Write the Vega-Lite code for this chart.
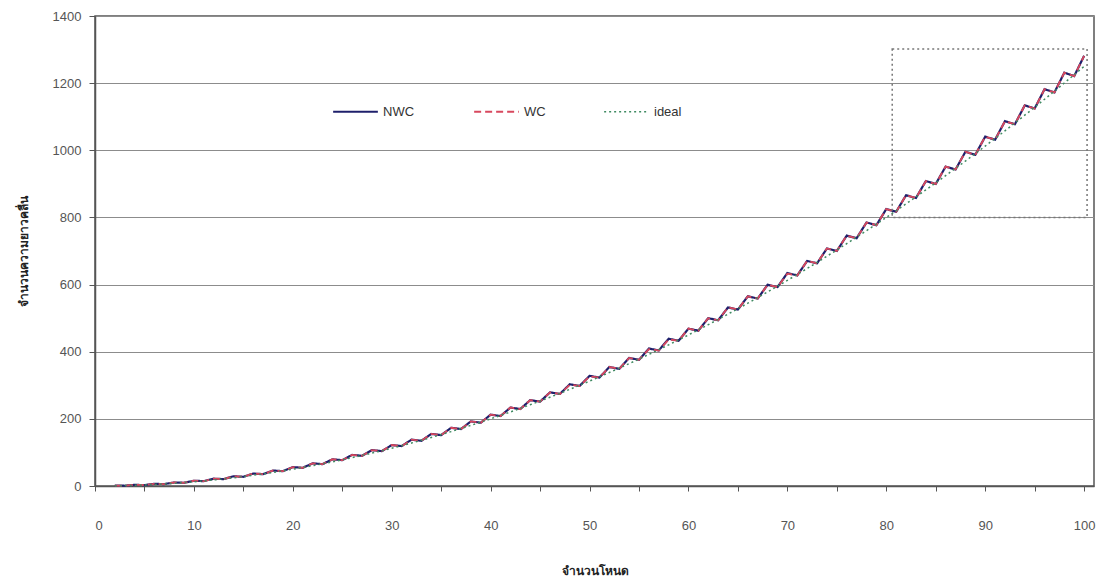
{
  "$schema": "https://vega.github.io/schema/vega-lite/v6.json",
  "width": 999,
  "height": 470,
  "autosize": "none",
  "padding": {"left": 95, "top": 16, "right": 15, "bottom": 99},
  "background": "white",
  "config": {
    "view": {"stroke": "#555555", "strokeWidth": 1.5},
    "font": "Liberation Sans"
  },
  "datasets": {
    "curves": [
      {"n":2,"NWC":1.1,"WC":1.1,"ideal":0.5},
      {"n":3,"NWC":0.8,"WC":0.8,"ideal":1.125},
      {"n":4,"NWC":3.3,"WC":3.3,"ideal":2},
      {"n":5,"NWC":2.8,"WC":2.8,"ideal":3.125},
      {"n":6,"NWC":6.4,"WC":6.4,"ideal":4.5},
      {"n":7,"NWC":5.7,"WC":5.7,"ideal":6.125},
      {"n":8,"NWC":10.5,"WC":10.5,"ideal":8},
      {"n":9,"NWC":9.6,"WC":9.6,"ideal":10.125},
      {"n":10,"NWC":15.6,"WC":15.6,"ideal":12.5},
      {"n":11,"NWC":14.5,"WC":14.5,"ideal":15.125},
      {"n":12,"NWC":21.8,"WC":21.8,"ideal":18},
      {"n":13,"NWC":20.5,"WC":20.5,"ideal":21.125},
      {"n":14,"NWC":28.9,"WC":28.9,"ideal":24.5},
      {"n":15,"NWC":27.4,"WC":27.4,"ideal":28.125},
      {"n":16,"NWC":37,"WC":37,"ideal":32},
      {"n":17,"NWC":35.3,"WC":35.3,"ideal":36.125},
      {"n":18,"NWC":46.1,"WC":46.1,"ideal":40.5},
      {"n":19,"NWC":44.2,"WC":44.2,"ideal":45.125},
      {"n":20,"NWC":56.3,"WC":56.3,"ideal":50},
      {"n":21,"NWC":54.2,"WC":54.2,"ideal":55.125},
      {"n":22,"NWC":67.4,"WC":67.4,"ideal":60.5},
      {"n":23,"NWC":65.1,"WC":65.1,"ideal":66.125},
      {"n":24,"NWC":79.5,"WC":79.5,"ideal":72},
      {"n":25,"NWC":77,"WC":77,"ideal":78.125},
      {"n":26,"NWC":92.6,"WC":92.6,"ideal":84.5},
      {"n":27,"NWC":89.9,"WC":89.9,"ideal":91.125},
      {"n":28,"NWC":106.8,"WC":106.8,"ideal":98},
      {"n":29,"NWC":103.9,"WC":103.9,"ideal":105.125},
      {"n":30,"NWC":121.9,"WC":121.9,"ideal":112.5},
      {"n":31,"NWC":118.8,"WC":118.8,"ideal":120.125},
      {"n":32,"NWC":138,"WC":138,"ideal":128},
      {"n":33,"NWC":134.7,"WC":134.7,"ideal":136.125},
      {"n":34,"NWC":155.1,"WC":155.1,"ideal":144.5},
      {"n":35,"NWC":151.6,"WC":151.6,"ideal":153.125},
      {"n":36,"NWC":173.3,"WC":173.3,"ideal":162},
      {"n":37,"NWC":169.6,"WC":169.6,"ideal":171.125},
      {"n":38,"NWC":192.4,"WC":192.4,"ideal":180.5},
      {"n":39,"NWC":188.5,"WC":188.5,"ideal":190.125},
      {"n":40,"NWC":212.5,"WC":212.5,"ideal":200},
      {"n":41,"NWC":208.4,"WC":208.4,"ideal":210.125},
      {"n":42,"NWC":233.6,"WC":233.6,"ideal":220.5},
      {"n":43,"NWC":229.3,"WC":229.3,"ideal":231.125},
      {"n":44,"NWC":255.8,"WC":255.8,"ideal":242},
      {"n":45,"NWC":251.3,"WC":251.3,"ideal":253.125},
      {"n":46,"NWC":278.9,"WC":278.9,"ideal":264.5},
      {"n":47,"NWC":274.2,"WC":274.2,"ideal":276.125},
      {"n":48,"NWC":303,"WC":301.5,"ideal":288},
      {"n":49,"NWC":298.1,"WC":298.1,"ideal":300.125},
      {"n":50,"NWC":328.1,"WC":326.5,"ideal":312.5},
      {"n":51,"NWC":323,"WC":323,"ideal":325.125},
      {"n":52,"NWC":354.3,"WC":354.3,"ideal":338},
      {"n":53,"NWC":349,"WC":349,"ideal":351.125},
      {"n":54,"NWC":381.4,"WC":381.4,"ideal":364.5},
      {"n":55,"NWC":375.9,"WC":375.9,"ideal":378.125},
      {"n":56,"NWC":409.5,"WC":407.5,"ideal":392},
      {"n":57,"NWC":403.8,"WC":403.8,"ideal":406.125},
      {"n":58,"NWC":438.6,"WC":436.6,"ideal":420.5},
      {"n":59,"NWC":432.7,"WC":432.7,"ideal":435.125},
      {"n":60,"NWC":468.8,"WC":468.8,"ideal":450},
      {"n":61,"NWC":462.7,"WC":462.7,"ideal":465.125},
      {"n":62,"NWC":499.9,"WC":499.9,"ideal":480.5},
      {"n":63,"NWC":493.6,"WC":493.6,"ideal":496.125},
      {"n":64,"NWC":532,"WC":532,"ideal":512},
      {"n":65,"NWC":525.5,"WC":525.5,"ideal":528.125},
      {"n":66,"NWC":565.1,"WC":565.1,"ideal":544.5},
      {"n":67,"NWC":558.4,"WC":558.4,"ideal":561.125},
      {"n":68,"NWC":599.3,"WC":599.3,"ideal":578},
      {"n":69,"NWC":592.4,"WC":592.4,"ideal":595.125},
      {"n":70,"NWC":634.4,"WC":632.4,"ideal":612.5},
      {"n":71,"NWC":627.3,"WC":627.3,"ideal":630.125},
      {"n":72,"NWC":670.5,"WC":670.5,"ideal":648},
      {"n":73,"NWC":663.2,"WC":663.2,"ideal":666.125},
      {"n":74,"NWC":707.6,"WC":707.6,"ideal":684.5},
      {"n":75,"NWC":700.1,"WC":700.1,"ideal":703.125},
      {"n":76,"NWC":745.8,"WC":745.8,"ideal":722},
      {"n":77,"NWC":738.1,"WC":738.1,"ideal":741.125},
      {"n":78,"NWC":784.9,"WC":784.9,"ideal":760.5},
      {"n":79,"NWC":777,"WC":777,"ideal":780.125},
      {"n":80,"NWC":825,"WC":825,"ideal":800},
      {"n":81,"NWC":816.9,"WC":816.9,"ideal":820.125},
      {"n":82,"NWC":866.1,"WC":866.1,"ideal":840.5},
      {"n":83,"NWC":857.8,"WC":857.8,"ideal":861.125},
      {"n":84,"NWC":908.3,"WC":908.3,"ideal":882},
      {"n":85,"NWC":899.8,"WC":899.8,"ideal":903.125},
      {"n":86,"NWC":951.4,"WC":951.4,"ideal":924.5},
      {"n":87,"NWC":942.7,"WC":942.7,"ideal":946.125},
      {"n":88,"NWC":995.5,"WC":995.5,"ideal":968},
      {"n":89,"NWC":986.6,"WC":986.6,"ideal":990.125},
      {"n":90,"NWC":1040.6,"WC":1040.6,"ideal":1012.5},
      {"n":91,"NWC":1031.5,"WC":1031.5,"ideal":1035.125},
      {"n":92,"NWC":1086.8,"WC":1086.8,"ideal":1058},
      {"n":93,"NWC":1077.5,"WC":1077.5,"ideal":1081.125},
      {"n":94,"NWC":1133.9,"WC":1133.9,"ideal":1104.5},
      {"n":95,"NWC":1124.4,"WC":1124.4,"ideal":1128.125},
      {"n":96,"NWC":1182,"WC":1182,"ideal":1152},
      {"n":97,"NWC":1172.3,"WC":1172.3,"ideal":1176.125},
      {"n":98,"NWC":1231.1,"WC":1231.1,"ideal":1200.5},
      {"n":99,"NWC":1221.2,"WC":1221.2,"ideal":1225.125},
      {"n":100,"NWC":1281.3,"WC":1281.3,"ideal":1250}
    ],
    "box": [{"x0": 80.6, "x1": 100.3, "y0": 800, "y1": 1302}]
  },
  "layer": [
    {
      "data": {"name": "curves"},
      "transform": [{"fold": ["NWC", "WC", "ideal"], "as": ["series", "value"]}],
      "mark": {"type": "line", "interpolate": "linear"},
      "encoding": {
        "x": {
          "field": "n", "type": "quantitative",
          "scale": {"domain": [0, 101], "nice": false, "zero": false},
          "axis": {
            "title": "จำนวนโหนด",
            "values": [0,5,10,15,20,25,30,35,40,45,50,55,60,65,70,75,80,85,90,95,100],
            "labelExpr": "datum.value % 10 === 0 ? datum.label : ''",
            "grid": false,
            "domainColor": "#555555", "domainWidth": 1.5,
            "tickColor": "#555555", "tickSize": 5, "tickWidth": 1,
            "labelColor": "#555555", "labelFontSize": 13, "labelPadding": 28, "labelDx": 4,
            "labelFont": "Liberation Sans",
            "titleFont": "Noto Sans", "titleFontSize": 12, "titleFontWeight": "bold", "titleColor": "#222222",
            "titlePadding": 33
          }
        },
        "y": {
          "field": "value", "type": "quantitative",
          "scale": {"domain": [0, 1400], "nice": false},
          "axis": {
            "title": "จำนวนความยาวคลื่น",
            "values": [0,200,400,600,800,1000,1200,1400],
            "format": "d",
            "grid": true, "gridColor": "#8c8c8c", "gridWidth": 1,
            "domainColor": "#555555", "domainWidth": 1.5,
            "tickColor": "#555555", "tickSize": 6,
            "labelColor": "#555555", "labelFontSize": 13, "labelPadding": 8,
            "labelFont": "Liberation Sans",
            "titleFont": "Noto Sans", "titleFontSize": 12, "titleFontWeight": "bold", "titleColor": "#222222",
            "titlePadding": 22
          }
        },
        "color": {
          "field": "series", "type": "nominal",
          "scale": {"domain": ["NWC", "WC", "ideal"], "range": ["#1e1f6b", "#d8485e", "#3f8a62"]},
          "legend": {
            "title": null, "orient": "none", "direction": "horizontal",
            "legendX": 237, "legendY": 72,
            "symbolType": "stroke", "symbolSize": 2000, "symbolStrokeWidth": 2,
            "labelFontSize": 13, "labelColor": "#333333", "labelOffset": 4,
            "columnPadding": 55
          }
        },
        "strokeDash": {
          "field": "series", "type": "nominal",
          "scale": {"domain": ["NWC", "WC", "ideal"], "range": [[1, 0], [7, 4], [2, 3]]},
          "legend": {
            "title": null, "orient": "none", "direction": "horizontal",
            "legendX": 237, "legendY": 72,
            "symbolType": "stroke", "symbolSize": 2000, "symbolStrokeWidth": 2,
            "labelFontSize": 13, "labelColor": "#333333", "labelOffset": 4,
            "columnPadding": 55
          }
        },
        "strokeWidth": {
          "field": "series", "type": "nominal",
          "scale": {"domain": ["NWC", "WC", "ideal"], "range": [2.2, 1.5, 1.5]},
          "legend": null
        }
      }
    },
    {
      "data": {"name": "box"},
      "mark": {"type": "rect", "fill": null, "fillOpacity": 0, "stroke": "#777777", "strokeWidth": 1.5, "strokeDash": [2, 3]},
      "encoding": {
        "x": {"field": "x0", "type": "quantitative"},
        "x2": {"field": "x1"},
        "y": {"field": "y0", "type": "quantitative"},
        "y2": {"field": "y1"}
      }
    }
  ]
}
